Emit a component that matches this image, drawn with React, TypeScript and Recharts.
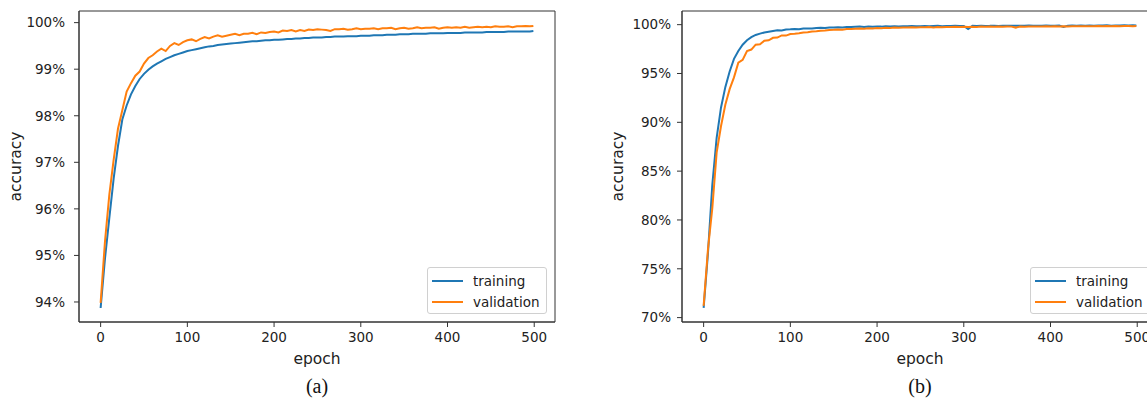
import React from "react";
import { LineChart, Line, XAxis, YAxis, ReferenceArea } from "recharts";

// epochs sampled every 5 (last one is 499)
const epochs = [
  0, 5, 10, 15, 20, 25, 30, 35, 40, 45, 50, 55, 60, 65, 70, 75, 80, 85, 90, 95,
  100, 105, 110, 115, 120, 125, 130, 135, 140, 145, 150, 155, 160, 165, 170, 175, 180, 185, 190, 195,
  200, 205, 210, 215, 220, 225, 230, 235, 240, 245, 250, 255, 260, 265, 270, 275, 280, 285, 290, 295,
  300, 305, 310, 315, 320, 325, 330, 335, 340, 345, 350, 355, 360, 365, 370, 375, 380, 385, 390, 395,
  400, 405, 410, 415, 420, 425, 430, 435, 440, 445, 450, 455, 460, 465, 470, 475, 480, 485, 490, 495,
  499,
];

// (a)
const trainA = [
  93.87, 94.93, 95.8, 96.65, 97.35, 97.92, 98.22, 98.46, 98.64, 98.79, 98.9, 98.99, 99.06, 99.12, 99.17, 99.22, 99.26, 99.3, 99.33, 99.36,
  99.39, 99.41, 99.43, 99.45, 99.47, 99.49, 99.5, 99.52, 99.53, 99.54, 99.55, 99.56, 99.57, 99.58, 99.59, 99.6, 99.6, 99.61, 99.62, 99.62,
  99.63, 99.63, 99.64, 99.65, 99.65, 99.66, 99.66, 99.67, 99.67, 99.68, 99.68, 99.68, 99.69, 99.69, 99.7, 99.7, 99.7, 99.71, 99.71, 99.71,
  99.72, 99.72, 99.72, 99.73, 99.73, 99.73, 99.74, 99.74, 99.74, 99.75, 99.75, 99.75, 99.76, 99.76, 99.76, 99.76, 99.77, 99.77, 99.77, 99.77,
  99.78, 99.78, 99.78, 99.78, 99.79, 99.79, 99.79, 99.79, 99.79, 99.8, 99.8, 99.8, 99.8, 99.8, 99.81, 99.81, 99.81, 99.81, 99.81, 99.81,
  99.82,
];
const valA = [
  93.98, 95.3, 96.3, 97.05, 97.72, 98.12, 98.52, 98.7, 98.86, 98.95, 99.12, 99.24, 99.3, 99.38, 99.44, 99.39, 99.5, 99.56, 99.52, 99.58,
  99.62, 99.64, 99.6, 99.65, 99.69, 99.66, 99.7, 99.73, 99.7, 99.72, 99.74, 99.76, 99.73, 99.76, 99.76, 99.78, 99.75, 99.79, 99.78, 99.8,
  99.81, 99.79, 99.83, 99.82, 99.84, 99.81, 99.84, 99.82, 99.85, 99.84, 99.86, 99.85, 99.84, 99.82, 99.86, 99.86, 99.87, 99.85, 99.86, 99.88,
  99.86, 99.87, 99.87, 99.88, 99.86, 99.88, 99.88, 99.89, 99.86, 99.88, 99.89, 99.87, 99.88, 99.9, 99.88, 99.89, 99.89, 99.9, 99.87, 99.89,
  99.9, 99.89, 99.9, 99.89, 99.91, 99.89, 99.9, 99.91, 99.9, 99.91, 99.9, 99.92, 99.91, 99.91, 99.92, 99.9, 99.92, 99.92, 99.93, 99.92,
  99.93,
];

// (b)
const trainB = [
  71.0, 76.6, 83.6, 88.4, 91.5, 93.6, 95.2, 96.5, 97.3, 97.95, 98.4, 98.72, 98.95, 99.08, 99.2, 99.28, 99.35, 99.42, 99.4, 99.5,
  99.52, 99.55, 99.53, 99.6, 99.62, 99.6, 99.66, 99.68, 99.65, 99.72, 99.7, 99.74, 99.72, 99.77, 99.75, 99.78, 99.8, 99.77, 99.81, 99.79,
  99.82, 99.8, 99.83, 99.81, 99.84, 99.82, 99.85, 99.83, 99.86, 99.84, 99.85, 99.87, 99.84, 99.86, 99.88, 99.85, 99.87, 99.86, 99.88, 99.86,
  99.87, 99.55, 99.88, 99.86, 99.89, 99.87, 99.88, 99.9, 99.87, 99.89, 99.88, 99.9, 99.88, 99.9, 99.89, 99.91, 99.88, 99.9, 99.89, 99.91,
  99.9, 99.88, 99.91, 99.76, 99.9, 99.92, 99.89, 99.91, 99.9, 99.92, 99.9, 99.92, 99.91, 99.93, 99.9, 99.92, 99.91, 99.93, 99.92, 99.93,
  99.92,
];
const valB = [
  71.2, 77.0, 81.2, 86.9, 89.6, 91.8, 93.4, 94.6, 96.1, 96.4, 97.3, 97.45, 97.95, 98.0, 98.35, 98.4, 98.65, 98.68, 98.9, 98.88,
  99.05, 99.08, 99.12, 99.2, 99.22, 99.3, 99.33, 99.38, 99.4, 99.45, 99.47, 99.5, 99.48, 99.55, 99.56, 99.58, 99.6, 99.58, 99.63, 99.62,
  99.66, 99.64, 99.68, 99.66, 99.7, 99.68, 99.72, 99.7, 99.73, 99.71, 99.74, 99.73, 99.75, 99.72, 99.76, 99.74, 99.77, 99.75, 99.78, 99.76,
  99.78, 99.77, 99.79, 99.77, 99.8, 99.78, 99.8, 99.79, 99.81, 99.79, 99.81, 99.8, 99.7, 99.81, 99.79, 99.82, 99.8, 99.82, 99.81, 99.83,
  99.81, 99.83, 99.82, 99.84, 99.82, 99.84, 99.83, 99.85, 99.83, 99.85, 99.84, 99.86, 99.84, 99.86, 99.85, 99.87, 99.85, 99.86, 99.87, 99.85,
  99.86,
];

const epochTicks = [0, 100, 200, 300, 400, 500];
const ticksA = [94, 95, 96, 97, 98, 99, 100];
const ticksB = [70, 75, 80, 85, 90, 95, 100];
const seriesNames = ["training", "validation"];
const seriesColors = ["#1f77b4", "#ff7f0e"];

const rowsA = epochs.map((e, i) => ({ epoch: e, training: trainA[i], validation: valA[i] }));
const rowsB = epochs.map((e, i) => ({ epoch: e, training: trainB[i], validation: valB[i] }));

const FONT = "'DejaVu Sans', sans-serif";
const AXIS = "#333";
const X_DOMAIN: [number, number] = [-24.95, 523.95];
const PLOT_W = 476;

function LegendBox({ left }: { left: number }) {
  return (
    <div
      style={{
        position: "absolute", left, top: 267,
        width: 120, height: 47,
        border: "1px solid #d0d0d0", borderRadius: 3,
        background: "rgba(255,255,255,0.8)",
        fontFamily: FONT, fontSize: 13.5, color: "#222",
        boxSizing: "border-box", paddingTop: 2,
      }}
    >
      {seriesNames.map((n, i) => (
        <div key={n} style={{ display: "flex", alignItems: "center", height: 21 }}>
          <span style={{ display: "inline-block", width: 31, height: 2, background: seriesColors[i], marginLeft: 4, marginRight: 10 }} />
          <span>{n}</span>
        </div>
      ))}
    </div>
  );
}

interface PanelProps {
  rows: Array<{ epoch: number; training: number; validation: number }>;
  yTicks: number[];
  yDomain: [number, number];
  left: number;
  width: number;
  yAxisWidth: number;
  tickGap: number;
  labelOffset: number;
  caption: string;
}

function Panel({ rows, yTicks, yDomain, left, width, yAxisWidth, tickGap, labelOffset, caption }: PanelProps) {
  const tick = { fill: "#222", fontSize: 13.5, fontFamily: FONT };
  return (
    <div style={{ position: "absolute", left, top: 0, width, height: 399 }}>
      <LineChart width={width} height={399} data={rows} margin={{ top: 11, right: width - yAxisWidth - PLOT_W, bottom: 27, left: 0 }}>
        <XAxis
          dataKey="epoch" type="number" domain={X_DOMAIN} ticks={epochTicks} allowDataOverflow
          stroke={AXIS} tick={tick} tickSize={5} tickMargin={5} height={50}
          label={{ value: "epoch", position: "insideBottom", offset: 8, style: { fontSize: 15.5, fontFamily: FONT, fill: "#222" } }}
        />
        <YAxis
          type="number" domain={yDomain} ticks={yTicks} allowDataOverflow interval={0}
          stroke={AXIS} tick={tick} tickSize={5} tickMargin={tickGap} width={yAxisWidth}
          tickFormatter={(v: number) => `${v}%`}
          label={{ value: "accuracy", angle: -90, position: "insideLeft", offset: labelOffset, style: { textAnchor: "middle", fontSize: 15.5, fontFamily: FONT, fill: "#222" } }}
        />
        <ReferenceArea
          x1={X_DOMAIN[0]} x2={X_DOMAIN[1]} y1={yDomain[0]} y2={yDomain[1]}
          fill="none" fillOpacity={0} stroke={AXIS} strokeWidth={1} ifOverflow="visible"
        />
        {seriesNames.map((n, i) => (
          <Line key={n} type="linear" dataKey={n} name={n} stroke={seriesColors[i]} strokeWidth={2} dot={false} isAnimationActive={false} />
        ))}
      </LineChart>
      <LegendBox left={yAxisWidth + PLOT_W - 128} />
      <div
        style={{
          position: "absolute", left: yAxisWidth, width: PLOT_W, top: 375, textAlign: "center",
          fontFamily: "'Liberation Serif', serif", fontSize: 20, color: "#111",
        }}
      >
        {caption}
      </div>
    </div>
  );
}

export default function App() {
  return (
    <div style={{ position: "absolute", left: 0, top: 0, width: 1147, height: 399, overflow: "hidden", background: "#fff" }}>
      <Panel rows={rowsA} yTicks={ticksA} yDomain={[93.57, 100.25]} left={0} width={570} yAxisWidth={79} tickGap={9} labelOffset={15} caption="(a)" />
      <Panel rows={rowsB} yTicks={ticksB} yDomain={[69.55, 101.4]} left={600} width={575} yAxisWidth={82} tickGap={6} labelOffset={17} caption="(b)" />
    </div>
  );
}
